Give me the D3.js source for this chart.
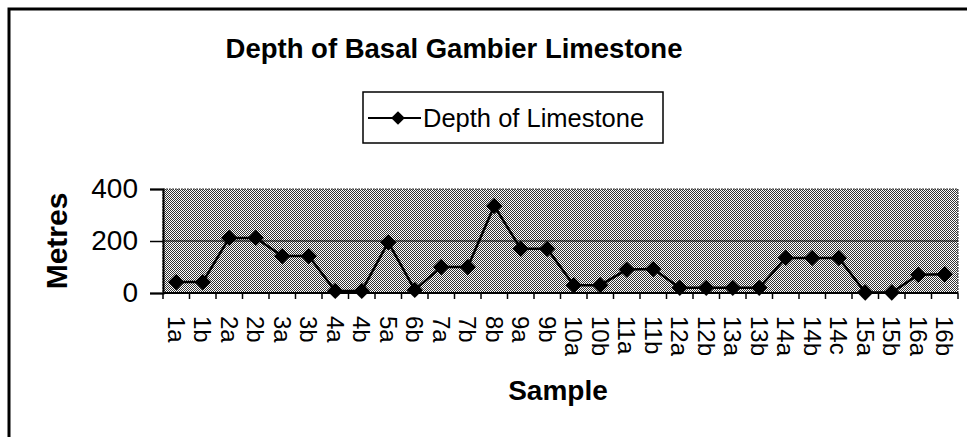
<!DOCTYPE html>
<html>
<head>
<meta charset="utf-8">
<script src="https://cdn.jsdelivr.net/npm/d3@7"></script>
<style>
  body { margin: 0; background: #fff; }
  svg { display: block; font-family: "Liberation Sans", Arial, sans-serif; }
</style>
</head>
<body>
<svg id="chart" width="967" height="437"></svg>
<script>
// sample ids along the x axis
const samples = ['1a', '1b', '2a', '2b', '3a', '3b', '4a', '4b', '5a', '6b', '7a', '7b', '8b', '9a', '9b',
  '10a', '10b', '11a', '11b', '12a', '12b', '13a', '13b', '14a', '14b', '14c', '15a', '15b', '16a', '16b'];
// depth in metres
const depths = [42, 42, 212, 212, 142, 142, 8, 8, 195, 12, 100, 100, 335, 170, 170,
  30, 30, 90, 92, 20, 20, 20, 20, 135, 135, 135, 2, 2, 70, 72];
const yTicks = [0, 200, 400];

const svg = d3.select('#chart');
const plot = {left: 163, right: 958, top: 189, bottom: 293};

// dotted grey fill of the plot area
const defs = svg.append('defs');
const pat = defs.append('pattern')
    .attr('id', 'dots')
    .attr('width', 2).attr('height', 2)
    .attr('patternUnits', 'userSpaceOnUse');
pat.append('rect').attr('width', 2).attr('height', 2).attr('fill', '#fff');
pat.append('rect').attr('x', 0).attr('y', 0).attr('width', 1).attr('height', 1).attr('fill', '#333');
pat.append('rect').attr('x', 1).attr('y', 1).attr('width', 1).attr('height', 1).attr('fill', '#333');

// outer frame (right and bottom edges fall outside the picture)
svg.append('path')
    .attr('d', 'M9,437 V9 H967')
    .attr('fill', 'none')
    .attr('stroke', '#000')
    .attr('stroke-width', 3);

const x = d3.scaleBand().domain(samples).range([plot.left, plot.right]);
const y = d3.scaleLinear().domain([0, 400]).range([plot.bottom, plot.top]);

svg.append('rect')
    .attr('x', plot.left).attr('y', plot.top)
    .attr('width', plot.right - plot.left).attr('height', plot.bottom - plot.top)
    .attr('fill', 'url(#dots)')
    .attr('stroke', '#333')
    .attr('stroke-width', 1)
    .attr('stroke-dasharray', '2,1');

// gridline at 200
svg.append('g')
    .selectAll('line')
    .data(yTicks.filter(d => d > 0 && d < 400))
    .enter()
    .append('line')
    .attr('x1', plot.left).attr('x2', plot.right)
    .attr('y1', d => y(d)).attr('y2', d => y(d))
    .attr('stroke', '#000')
    .attr('stroke-width', 1.2);

// y axis
const yAxis = svg.append('g')
    .attr('transform', 'translate(' + plot.left + ',0)')
    .call(d3.axisLeft(y).tickValues(yTicks).tickSize(13).tickPadding(12));
yAxis.select('.domain').attr('stroke', '#000').attr('stroke-width', 2);
yAxis.selectAll('.tick line').attr('stroke', '#000').attr('stroke-width', 1.5);
yAxis.selectAll('.tick text')
    .attr('font-size', 28)
    .attr('fill', '#000')
    .attr('font-family', '"Liberation Sans", Arial, sans-serif');

// x axis: ticks at band edges, labels turned to read downwards
const xg = svg.append('g').attr('transform', 'translate(0,' + plot.bottom + ')');
xg.append('line')
    .attr('x1', plot.left).attr('x2', plot.right)
    .attr('stroke', '#000').attr('stroke-width', 2);
xg.selectAll('line.tk')
    .data(samples.concat(['end']))
    .enter()
    .append('line')
    .attr('class', 'tk')
    .attr('x1', (d, i) => plot.left + i * x.bandwidth())
    .attr('x2', (d, i) => plot.left + i * x.bandwidth())
    .attr('y1', 0).attr('y2', 6)
    .attr('stroke', '#000').attr('stroke-width', 1.5);
xg.selectAll('text')
    .data(samples)
    .enter()
    .append('text')
    .attr('transform', d => 'translate(' + (x(d) + x.bandwidth() / 2) + ',23) rotate(90)')
    .attr('dy', '0.35em')
    .attr('font-size', 24)
    .attr('text-anchor', 'start')
    .text(d => d);

// line and diamond markers
const line = d3.line()
    .x((d, i) => x(samples[i]) + x.bandwidth() / 2)
    .y(d => y(d));
svg.append('path')
    .datum(depths)
    .attr('d', line)
    .attr('fill', 'none')
    .attr('stroke', '#000')
    .attr('stroke-width', 2.5);
const diamond = d3.symbol().type(d3.symbolDiamond2).size(170);
svg.append('g')
    .selectAll('path')
    .data(depths)
    .enter()
    .append('path')
    .attr('d', diamond)
    .attr('transform', (d, i) => 'translate(' + (x(samples[i]) + x.bandwidth() / 2) + ',' + y(d) + ')')
    .attr('fill', '#000');

// titles
svg.append('text')
    .attr('x', 454).attr('y', 58)
    .attr('text-anchor', 'middle')
    .attr('font-size', 27.5)
    .attr('font-weight', 'bold')
    .text('Depth of Basal Gambier Limestone');
svg.append('text')
    .attr('transform', 'translate(67,241) rotate(-90)')
    .attr('text-anchor', 'middle')
    .attr('font-size', 30)
    .attr('font-weight', 'bold')
    .text('Metres');
svg.append('text')
    .attr('x', 558).attr('y', 400)
    .attr('text-anchor', 'middle')
    .attr('font-size', 28)
    .attr('font-weight', 'bold')
    .text('Sample');

// legend
const lg = svg.append('g').attr('transform', 'translate(363,92)');
lg.append('rect')
    .attr('width', 300).attr('height', 51)
    .attr('fill', '#fff')
    .attr('stroke', '#000')
    .attr('stroke-width', 1.5);
lg.append('line')
    .attr('x1', 5).attr('x2', 58).attr('y1', 26).attr('y2', 26)
    .attr('stroke', '#000').attr('stroke-width', 2);
lg.append('path')
    .attr('d', d3.symbol().type(d3.symbolDiamond2).size(120))
    .attr('transform', 'translate(35,26)')
    .attr('fill', '#000');
lg.append('text')
    .attr('x', 60).attr('y', 35)
    .attr('font-size', 25.5)
    .text('Depth of Limestone');
</script>
</body>
</html>
